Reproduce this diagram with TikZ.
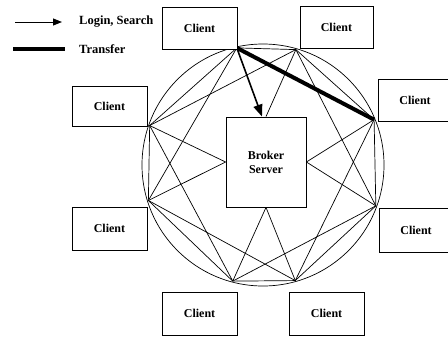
\documentclass[tikz,border=0pt]{standalone}
\usepackage{fontspec}
\setmainfont{Liberation Serif}
\usetikzlibrary{arrows.meta,calc}
\begin{document}
\begin{tikzpicture}[x=1pt,y=-1pt,
  box/.style={draw, line width=0.8pt, fill=white, inner sep=0pt,
    font=\bfseries\fontsize{12}{14}\selectfont},
  client/.style={box, minimum width=75pt, minimum height=42pt},
  link/.style={line width=0.7pt},
  transfer/.style={line width=4pt},
  login/.style={line width=1.6pt, -{Triangle[length=12pt,width=9pt]}},
  legtext/.style={anchor=west, inner sep=0pt, font=\bfseries\fontsize{12.5}{14}\selectfont}]
\useasboundingbox (0,0) rectangle (448,338);

% legend
\coordinate (la) at (15,22);
\coordinate (lb) at (62,22);
\coordinate (ta) at (13,49);
\coordinate (tb) at (65,49);
\draw[line width=1pt, -{Triangle[length=9pt,width=7pt]}] (la) -- (lb);
\draw[transfer] (ta) -- (tb);
\node[legtext] (lt1) at (79,22) {Login, Search};
\node[legtext] (lt2) at (79,49) {Transfer};

% ring
\coordinate (ctr) at (263,165);
\draw[link] (ctr) circle [radius=121pt];
\coordinate (p0) at ($(ctr)+(102.6:120pt)$);
\coordinate (p1) at ($(ctr)+(74.1:120pt)$);
\coordinate (p2) at ($(ctr)+(22.2:120pt)$);
\coordinate (p3) at ($(ctr)+(-19.9:120pt)$);
\coordinate (p4) at ($(ctr)+(-74.4:120pt)$);
\coordinate (p5) at ($(ctr)+(-104.6:120pt)$);
\coordinate (p6) at ($(ctr)+(197.2:120pt)$);
\coordinate (p7) at ($(ctr)+(160.8:120pt)$);

% broker
\node[box, minimum width=80pt, minimum height=90pt, align=center] (broker) at (266,162) {Broker\\Server};

% octagon and star chords
\draw[link] (p0) -- (p1) -- (p2) -- (p3) -- (p4) -- (p5) -- (p6) -- (p7) -- cycle;
\draw[link] (p0) -- (p2) -- (p4) -- (p6) -- cycle;
\draw[link] (p1) -- (p3) -- (p5) -- (p7) -- cycle;

% links to broker
\draw[link] (p1) -- (broker.north);
\draw[link] (p2) -- (broker.east);
\draw[link] (p3) -- (broker.east);
\draw[link] (p4) -- (broker.south);
\draw[link] (p5) -- (broker.south);
\draw[link] (p6) -- (broker.west);
\draw[link] (p7) -- (broker.west);

% highlighted connections
\draw[transfer] (p0) -- (p2);
\draw[login] (p0) -- ([xshift=-4pt]broker.north);

% clients
\node[client] (c0) at (199.5,28) {Client};
\node[client, minimum width=73pt] (c1) at (336.5,27) {Client};
\node[client, minimum width=74pt] (c2) at (415,100) {Client};
\node[client, minimum width=74pt, minimum height=44pt] (c3) at (416,230) {Client};
\node[client, minimum height=40pt] (c7) at (109.5,106) {Client};
\node[client, minimum height=43pt] (c6) at (109.5,228.5) {Client};
\node[client, minimum height=43pt] (c5) at (199.5,313.5) {Client};
\node[client, minimum height=43pt] (c4) at (326.5,313.5) {Client};
\end{tikzpicture}
\end{document}
